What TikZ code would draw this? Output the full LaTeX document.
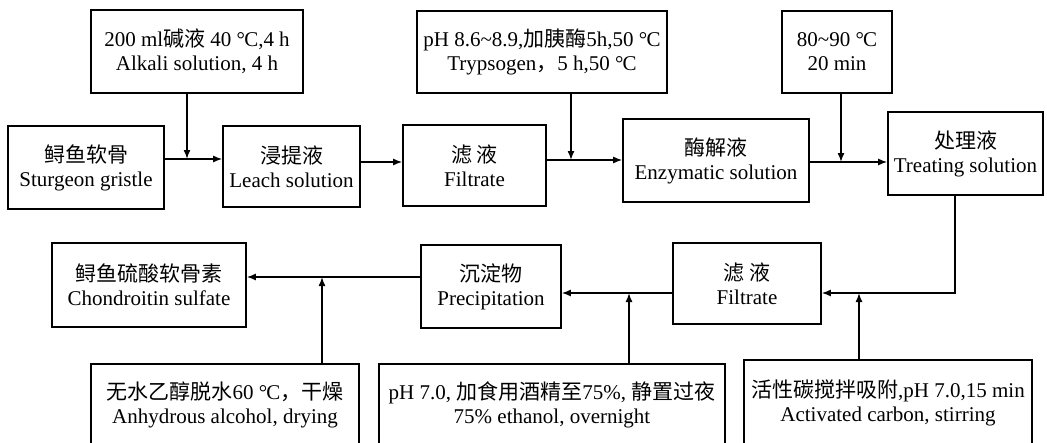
\documentclass[tikz,border=0pt]{standalone}
\usepackage{fontspec}
\setmainfont{Liberation Serif}
\newfontfamily\cjk{Noto Sans CJK SC}
\newcommand\zh[1]{{\cjk #1}}
\newcommand\degc{\textdegree\kern-0.04em C}
\usetikzlibrary{arrows.meta}
\begin{document}
\begin{tikzpicture}[x=1pt,y=-1pt,
  box/.style={draw, line width=1.6pt, align=center, inner sep=0pt, font=\fontsize{21}{24}\selectfont},
  conn/.style={line width=1.5pt},
  arr/.style={conn, -{Latex[length=9pt,width=7pt]}}]
\useasboundingbox (0,0) rectangle (1047,442);
\clip (0,0) rectangle (1047,442);
\fill[white] (0,0) rectangle (1047,442);
% top row
\node[box, minimum width=156pt, minimum height=83pt] (A) at (86,167.5) {\zh{鲟鱼软骨}\\Sturgeon gristle};
\node[box, minimum width=212pt, minimum height=83pt] (Alk) at (197,51.5) {200 ml\zh{碱液} 40 \degc,4 h\\Alkali solution, 4 h};
\node[box, minimum width=137pt, minimum height=81pt] (B) at (291.5,166.5) {\zh{浸提液}\\Leach solution};
\node[box, minimum width=143pt, minimum height=81pt] (C) at (474.5,165.5) {\zh{滤 液}\\Filtrate};
\node[box, minimum width=250pt, minimum height=82pt] (Tr) at (542,52) {pH 8.6\textasciitilde8.9,\zh{加胰酶}5h,50 \degc\\Trypsogen\zh{，}5 h,50 \degc};
\node[box, minimum width=186pt, minimum height=83pt] (D) at (716,160.5) {\zh{酶解液}\\Enzymatic solution};
\node[box, minimum width=110pt, minimum height=82pt] (T) at (837,52) {80\textasciitilde90 \degc\\20 min};
\node[box, minimum width=155pt, minimum height=83pt] (E) at (965.5,153.5) {\zh{处理液}\\Treating solution};
% bottom row
\node[box, minimum width=148pt, minimum height=81pt] (F) at (747,283.5) {\zh{滤 液}\\Filtrate};
\node[box, minimum width=288pt, minimum height=86pt] (Act) at (888,403) {\zh{活性碳搅拌吸附},pH 7.0,15 min\\Activated carbon, stirring};
\node[box, minimum width=140pt, minimum height=83pt] (G) at (491,286.5) {\zh{沉淀物}\\Precipitation};
\node[box, minimum width=346pt, minimum height=82pt] (Eth) at (552,405) {pH 7.0, \zh{加食用酒精至}75\%, \zh{静置过夜}\\75\% ethanol, overnight};
\node[box, minimum width=194pt, minimum height=84pt] (H) at (149,285) {\zh{鲟鱼硫酸软骨素}\\Chondroitin sulfate};
\node[box, minimum width=268pt, minimum height=82pt] (Anh) at (225,405) {\zh{无水乙醇脱水}60 \degc\zh{，干燥}\\Anhydrous alcohol, drying};
% junctions
\coordinate (j1) at (187,159);
\coordinate (j2) at (360,162);
\coordinate (j3) at (571,160);
\coordinate (j4) at (841,162);
\coordinate (j5) at (955,293);
\coordinate (j6) at (859,293);
\coordinate (j7) at (629,293);
\coordinate (j8) at (322,277);
% connectors
\draw[arr] (A.east |- j1) -- (B.west |- j1);
\draw[arr] (Alk.south -| j1) -- (j1);
\draw[arr] (B.east |- j2) -- (C.west |- j2);
\draw[arr] (C.east |- j3) -- (D.west |- j3);
\draw[arr] (Tr.south -| j3) -- (j3);
\draw[arr] (D.east |- j4) -- (E.west |- j4);
\draw[arr] (T.south -| j4) -- (j4);
\draw[arr] (E.south -| j5) -- (j5) -- (F.east |- j5);
\draw[arr] (Act.north -| j6) -- (j6);
\draw[arr] (F.west |- j7) -- (G.east |- j7);
\draw[arr] (Eth.north -| j7) -- (j7);
\draw[arr] (G.west |- j8) -- (H.east |- j8);
\draw[arr] (Anh.north -| j8) -- (j8);
\end{tikzpicture}
\end{document}
